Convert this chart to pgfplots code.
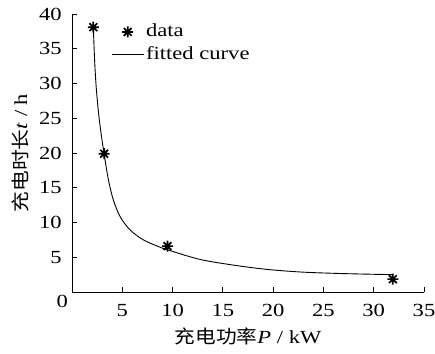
\documentclass[border=0pt]{standalone}
\usepackage{pgfplots}
\pgfplotsset{compat=1.18}
\usepackage{fontspec}
\setmainfont{Liberation Serif}[FakeStretch=1.22]
\newfontfamily\cjk{Noto Sans CJK SC}[FakeStretch=1.12]
\pgfdeclareplotmark{ast8}{%
  \pgfpathmoveto{\pgfqpoint{-\pgfplotmarksize}{0pt}}\pgfpathlineto{\pgfqpoint{\pgfplotmarksize}{0pt}}%
  \pgfpathmoveto{\pgfqpoint{0pt}{-\pgfplotmarksize}}\pgfpathlineto{\pgfqpoint{0pt}{\pgfplotmarksize}}%
  \pgfpathmoveto{\pgfqpoint{-0.7071\pgfplotmarksize}{-0.7071\pgfplotmarksize}}\pgfpathlineto{\pgfqpoint{0.7071\pgfplotmarksize}{0.7071\pgfplotmarksize}}%
  \pgfpathmoveto{\pgfqpoint{-0.7071\pgfplotmarksize}{0.7071\pgfplotmarksize}}\pgfpathlineto{\pgfqpoint{0.7071\pgfplotmarksize}{-0.7071\pgfplotmarksize}}%
  \pgfusepathqstroke}
\begin{document}
\fontsize{18.5}{21}\selectfont
\begin{tikzpicture}
\begin{axis}[
  name=ax,
  width=352pt, height=278pt, scale only axis,
  xmin=0, xmax=35, ymin=0, ymax=40,
  axis x line*=bottom, axis y line*=left,
  axis line style={line width=0.9pt},
  tick style={line width=0.9pt, black},
  tick align=inside, major tick length=5pt,
  xtick={5,10,...,35}, ytick={5,10,...,40},
  /pgf/number format/assume math mode=true,
  xticklabel style={yshift=-6pt},
  yticklabel style={xshift=-4pt},
  xlabel={{\cjk 充电功率}\textit{P} / kW},
  ylabel={{\cjk 充电时长}\textit{t} / h},
  xlabel style={yshift=2pt},
  ylabel style={yshift=-2pt},
  legend style={at={(0.108,0.975)}, anchor=north west, draw=none, fill=none,
    row sep=3pt, inner sep=1pt,
    nodes={inner sep=2pt}},
  legend cell align=left,
  legend image code/.code={\draw[mark repeat=2,mark phase=2,#1] plot coordinates {(0pt,0pt)(16pt,0pt)(32pt,0pt)};},
]
\addplot[only marks, mark=ast8, mark size=5.5pt, mark options={line width=1.7pt, black}] coordinates {
(2.12,38.1)(3.2,19.9)(9.5,6.6)(31.9,1.85)};
\addplot[black, line width=0.9pt, smooth, tension=0.55] coordinates {
(2.12,38.1)(2.25,33.3)(2.4,29.6)(2.6,26.3)(2.8,23.8)(3.0,21.7)(3.2,19.8)(3.6,16.3)(4.1,13.3)(4.8,10.8)(5.8,8.9)(7.1,7.5)(8.75,6.45)(9.6,6.02)(12.7,4.7)(16,3.88)(19.35,3.26)(22.7,2.88)(26,2.69)(29,2.58)(31.8,2.5)};
\legend{data, fitted curve}
\end{axis}
\node[anchor=north east, inner sep=0pt] at (ax.south west) [xshift=-4pt, yshift=-3pt] {0};
\pgfresetboundingbox
\path (ax.south west) ++(-72pt,-61pt) rectangle ++(435pt,353pt);
\end{tikzpicture}
\end{document}
